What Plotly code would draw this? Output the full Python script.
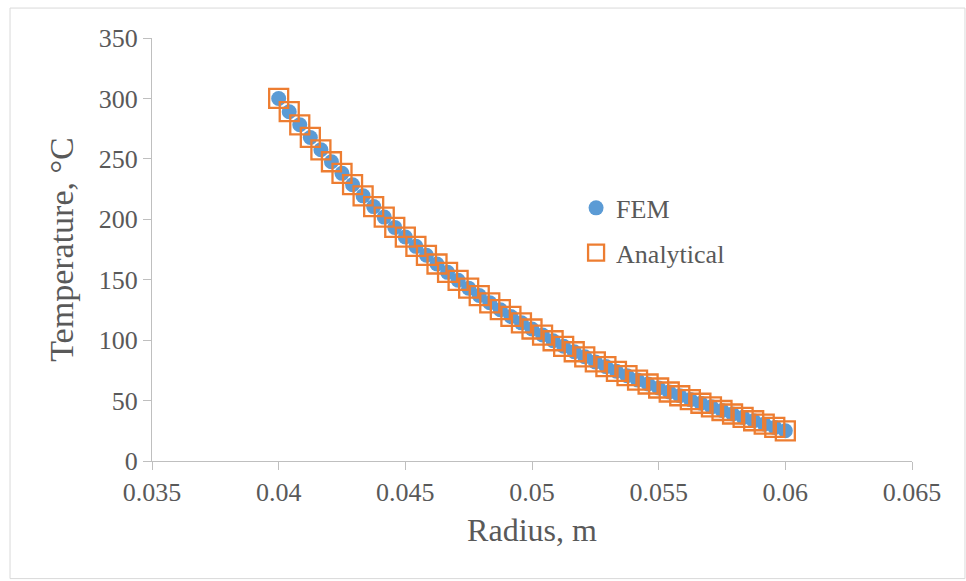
import plotly.graph_objects as go

# ---- data ----
radius = [0.040000, 0.040417, 0.040833, 0.041250, 0.041667, 0.042083, 0.042500,
          0.042917, 0.043333, 0.043750, 0.044167, 0.044583, 0.045000, 0.045417,
          0.045833, 0.046250, 0.046667, 0.047083, 0.047500, 0.047917, 0.048333,
          0.048750, 0.049167, 0.049583, 0.050000, 0.050417, 0.050833, 0.051250,
          0.051667, 0.052083, 0.052500, 0.052917, 0.053333, 0.053750, 0.054167,
          0.054583, 0.055000, 0.055417, 0.055833, 0.056250, 0.056667, 0.057083,
          0.057500, 0.057917, 0.058333, 0.058750, 0.059167, 0.059583, 0.060000]

fem_temp = [300.0, 289.0, 278.2, 267.7, 257.5, 247.6, 238.0, 228.6, 219.4, 210.5,
            201.8, 193.3, 185.3, 177.6, 170.2, 163.0, 156.1, 149.5, 143.0, 136.9,
            130.9, 125.2, 119.6, 114.3, 109.2, 104.2, 99.5, 94.9, 90.4, 86.2,
            82.0, 78.1, 74.2, 70.6, 67.0, 63.7, 60.4, 57.1, 54.0, 50.8,
            47.8, 44.8, 41.8, 38.9, 36.1, 33.3, 30.5, 27.8, 25.0]

analytical_temp = [300.0, 289.0, 278.2, 267.7, 257.5, 247.6, 238.0, 228.6, 219.4, 210.5,
                   201.8, 193.3, 185.3, 177.6, 170.2, 163.0, 156.1, 149.5, 143.0, 136.9,
                   130.9, 125.2, 119.6, 114.3, 109.2, 104.2, 99.5, 94.9, 90.4, 86.2,
                   82.0, 78.1, 74.2, 70.6, 67.0, 63.7, 60.4, 57.1, 54.0, 50.8,
                   47.8, 44.8, 41.8, 38.9, 36.1, 33.3, 30.5, 27.8, 25.0]

x_tickvals = [0.035, 0.04, 0.045, 0.05, 0.055, 0.06, 0.065]
x_ticktext = ["0.035", "0.04", "0.045", "0.05", "0.055", "0.06", "0.065"]
y_tickvals = [0, 50, 100, 150, 200, 250, 300, 350]

series_names = ["FEM", "Analytical"]
x_title = "Radius, m"
y_title = "Temperature, °C"

# ---- styling ----
FONT = "Times New Roman, Liberation Serif, serif"
TEXT = "#595959"
AXIS = "#BFBFBF"

fig = go.Figure()
fig.add_trace(go.Scatter(
    x=radius, y=fem_temp, name=series_names[0], mode="markers",
    legendgroup="a",
    marker=dict(symbol="circle", size=15, color="#5B9BD5", line=dict(width=0)),
))
fig.add_trace(go.Scatter(
    x=radius, y=analytical_temp, name=series_names[1], mode="markers",
    legendgroup="b",
    marker=dict(symbol="square-open", size=19, color="#ED7D31",
                line=dict(width=2.3, color="#ED7D31")),
))

fig.update_layout(
    width=966, height=581,
    margin=dict(l=152, r=54, t=38, b=120),
    paper_bgcolor="white", plot_bgcolor="white",
    font=dict(family=FONT, color=TEXT, size=24),
    showlegend=True,
    legend=dict(x=0.558, y=0.545, xanchor="left", yanchor="middle",
                font=dict(size=26, family=FONT, color=TEXT),
                bgcolor="rgba(0,0,0,0)", tracegroupgap=8,
                itemsizing="trace"),
    xaxis=dict(range=[0.035, 0.065], tickvals=x_tickvals, ticktext=x_ticktext,
               showgrid=False, zeroline=False, showline=True, linecolor=AXIS,
               linewidth=1.3, ticks="outside", ticklen=8, tickcolor=AXIS,
               tickwidth=1.3, tickfont=dict(size=26, family=FONT, color=TEXT),
               title=dict(text=x_title, font=dict(size=32, family=FONT, color=TEXT),
                          standoff=12)),
    yaxis=dict(range=[0, 350], tickvals=y_tickvals,
               showgrid=False, zeroline=False, showline=True, linecolor=AXIS,
               linewidth=1.3, ticks="outside", ticklen=8, tickcolor=AXIS,
               tickwidth=1.3, tickfont=dict(size=26, family=FONT, color=TEXT),
               title=dict(text=y_title, font=dict(size=34, family=FONT, color=TEXT),
                          standoff=14)),
    shapes=[dict(type="rect", xref="paper", yref="paper",
                 x0=-0.1868, x1=1.0697, y0=-0.278, y1=1.0708,
                 line=dict(color="#D9D9D9", width=1), fillcolor="rgba(0,0,0,0)",
                 layer="below")],
)

fig.write_html("out.html")
